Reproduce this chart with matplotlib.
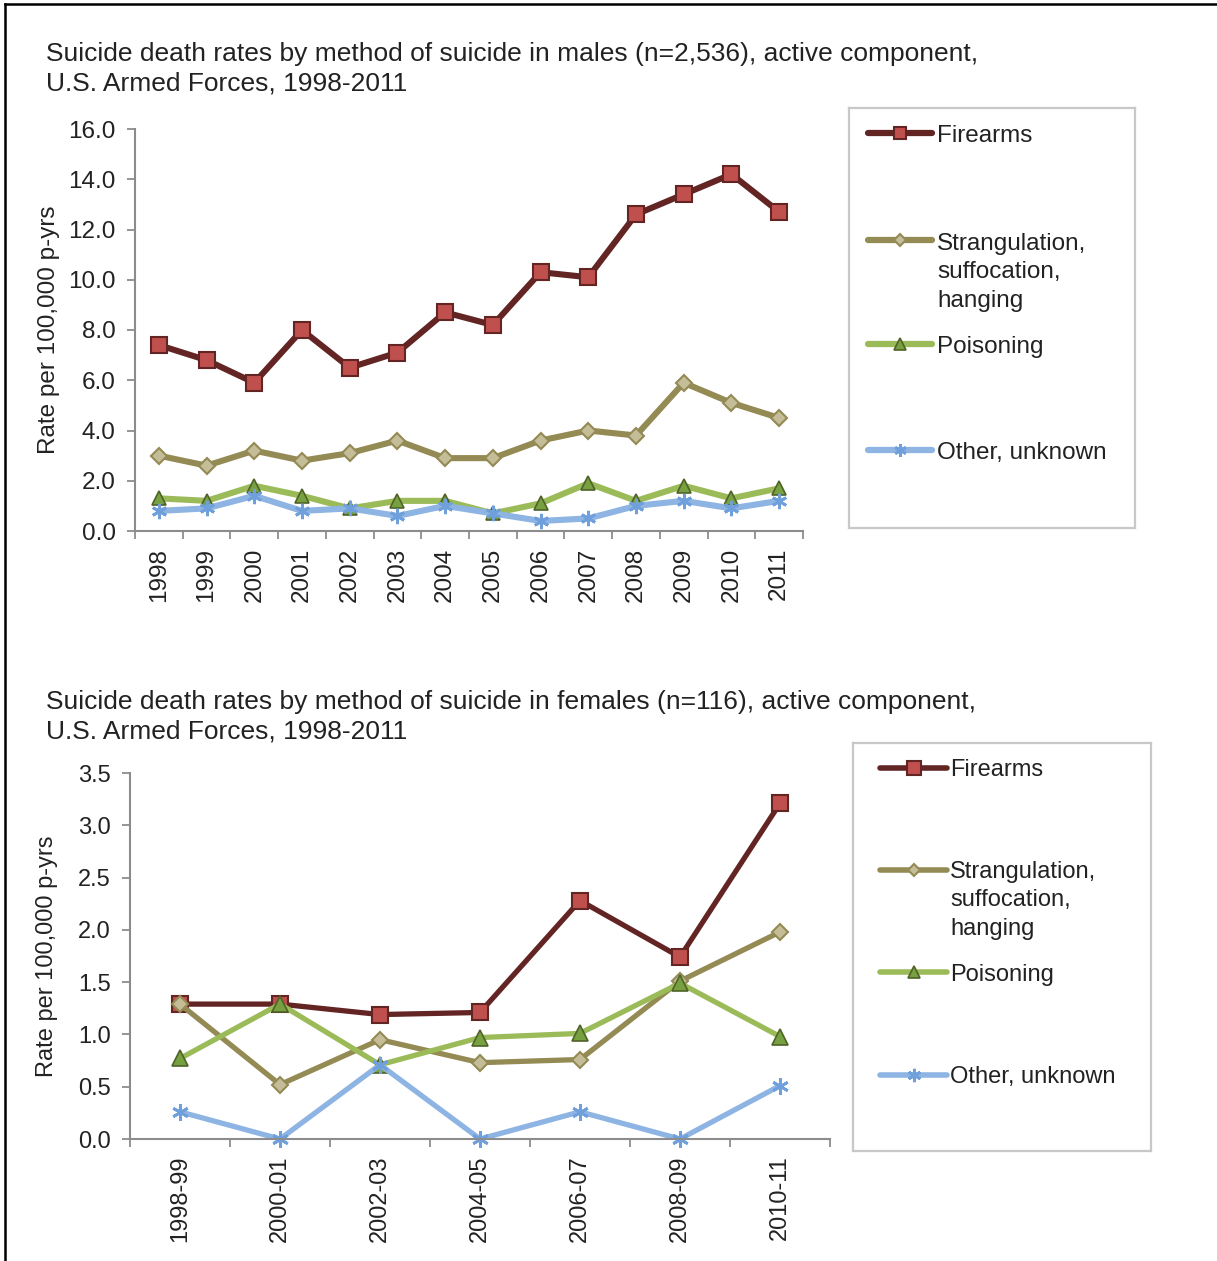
import matplotlib
matplotlib.use('Agg')
import matplotlib.pyplot as plt
from matplotlib.lines import Line2D
from matplotlib.ticker import FormatStrFormatter
import numpy as np

plt.rcParams['font.family'] = ['Liberation Sans', 'DejaVu Sans']

# ── Data ─────────────────────────────────────────────────────────────────────
years = ['1998', '1999', '2000', '2001', '2002', '2003', '2004',
         '2005', '2006', '2007', '2008', '2009', '2010', '2011']
male_firearms = [7.4, 6.8, 5.9, 8.0, 6.5, 7.1, 8.7, 8.2, 10.3, 10.1, 12.6, 13.4, 14.2, 12.7]
male_strang   = [3.0, 2.6, 3.2, 2.8, 3.1, 3.6, 2.9, 2.9, 3.6, 4.0, 3.8, 5.9, 5.1, 4.5]
male_poison   = [1.3, 1.2, 1.8, 1.4, 0.9, 1.2, 1.2, 0.7, 1.1, 1.9, 1.2, 1.8, 1.3, 1.7]
male_other    = [0.8, 0.9, 1.4, 0.8, 0.9, 0.6, 1.0, 0.7, 0.4, 0.5, 1.0, 1.2, 0.9, 1.2]

periods = ['1998-99', '2000-01', '2002-03', '2004-05', '2006-07', '2008-09', '2010-11']
female_firearms = [1.29, 1.29, 1.19, 1.21, 2.28, 1.74, 3.21]
female_strang   = [1.29, 0.52, 0.95, 0.73, 0.76, 1.51, 1.98]
female_poison   = [0.77, 1.29, 0.71, 0.97, 1.01, 1.49, 0.98]
female_other    = [0.26, 0.0, 0.71, 0.0, 0.26, 0.0, 0.51]

labels = ['Firearms', 'Strangulation,\nsuffocation,\nhanging', 'Poisoning', 'Other, unknown']

# ── Styles ───────────────────────────────────────────────────────────────────
TEXT = '#222222'
SPINE = '#8C8C8C'
BOX = '#C8C8C8'
ASTER = (6, 2, 0)
STYLES = [
    dict(color='#632523', marker='s', mfc='#C0504D', mec='#632523', mew=1.5),
    dict(color='#948A54', marker='D', mfc='#C4BD97', mec='#948A54', mew=1.5),
    dict(color='#9BBB59', marker='^', mfc='#77A040', mec='#4F6228', mew=1.2),
    dict(color='#8DB4E2', marker=ASTER, mfc='#6FA0DC', mec='#6FA0DC', mew=2.0),
]
MSIZES_TOP = [11, 8, 10, 11]
MSIZES_BOT = [12, 8, 11, 12]

fig = plt.figure(figsize=(12.17, 12.61), dpi=100)

# outer frame (left + top edges only, as in the source scan)
fig.add_artist(Line2D([5 / 1217, 5 / 1217], [0, 1 - 4 / 1261], color='black', lw=1.8,
                      transform=fig.transFigure))
fig.add_artist(Line2D([5 / 1217, 1], [1 - 4 / 1261, 1 - 4 / 1261], color='black', lw=1.8,
                      transform=fig.transFigure))


def style_axes(ax, cats, ymax, ystep, fs, ylab_x):
    n = len(cats)
    ax.set_xlim(-0.5, n - 0.5)
    ax.set_ylim(0, ymax)
    ax.set_xticks(range(n))
    ax.set_xticklabels(cats, rotation=90, fontsize=fs, color=TEXT)
    ax.set_xticks(np.arange(-0.5, n), minor=True)
    ax.tick_params(axis='x', which='major', length=0, pad=12)
    ax.tick_params(axis='x', which='minor', length=6, width=1.3, color=SPINE)
    ax.set_yticks(np.arange(0, ymax + ystep / 2, ystep))
    ax.yaxis.set_major_formatter(FormatStrFormatter('%.1f'))
    ax.tick_params(axis='y', length=6, width=1.3, color=SPINE, pad=8,
                   labelsize=fs, labelcolor=TEXT)
    for side in ('top', 'right'):
        ax.spines[side].set_visible(False)
    for side in ('left', 'bottom'):
        ax.spines[side].set_color(SPINE)
        ax.spines[side].set_linewidth(1.5)
    ax.set_ylabel('Rate per 100,000 p-yrs', fontsize=fs, color=TEXT)
    ax.yaxis.set_label_coords(ylab_x, 0.5)


def draw_key(rect, wpx, hpx, line_x, text_x, ys, step, lw, msizes, fs):
    lax = fig.add_axes(rect)
    lax.set_xlim(0, wpx)
    lax.set_ylim(hpx, 0)
    lax.set_xticks([])
    lax.set_yticks([])
    for sp in lax.spines.values():
        sp.set_color(BOX)
        sp.set_linewidth(1.6)
    for st, ms, lab, y in zip(STYLES, msizes, labels, ys):
        lax.plot(line_x, [y, y], color=st['color'], lw=lw, solid_capstyle='round')
        lax.plot([(line_x[0] + line_x[1]) / 2], [y], linestyle='none', marker=st['marker'],
                 ms=ms * 0.8, mfc=st['mfc'], mec=st['mec'], mew=st['mew'])
        # baseline of a multi-line text is that of its last line
        nl = lab.count('\n')
        lax.text(text_x, y + 8.5 + nl * step, lab, fontsize=fs, color=TEXT,
                 va='baseline', ha='left', linespacing=1.36)


# ── Top panel: males ─────────────────────────────────────────────────────────
ax1 = fig.add_axes([135 / 1217, 1 - 531 / 1261, 668 / 1217, 402 / 1261])
x1 = np.arange(len(years))
for series, st, ms in zip([male_firearms, male_strang, male_poison, male_other],
                          STYLES, MSIZES_TOP):
    ax1.plot(x1, series, color=st['color'], lw=4.4, marker=st['marker'], ms=ms,
             mfc=st['mfc'], mec=st['mec'], mew=st['mew'], clip_on=False)
style_axes(ax1, years, 16, 2, 17.5, -0.112)

fig.text(46 / 1217, 1 - 90 / 1261,
         'Suicide death rates by method of suicide in males (n=2,536), active component,\n'
         'U.S. Armed Forces, 1998-2011',
         fontsize=19, color=TEXT, ha='left', va='baseline', linespacing=1.28)

draw_key([849 / 1217, 1 - 528 / 1261, 286 / 1217, 420 / 1261], 286, 420,
         [19, 83], 88, [25, 132, 236, 342], 29, 4.5, MSIZES_TOP, 17.5)

# ── Bottom panel: females ────────────────────────────────────────────────────
ax2 = fig.add_axes([130 / 1217, 1 - 1139 / 1261, 700 / 1217, 366 / 1261])
x2 = np.arange(len(periods))
for series, st, ms in zip([female_firearms, female_strang, female_poison, female_other],
                          STYLES, MSIZES_BOT):
    ax2.plot(x2, series, color=st['color'], lw=3.8, marker=st['marker'], ms=ms,
             mfc=st['mfc'], mec=st['mec'], mew=st['mew'], clip_on=False)
style_axes(ax2, periods, 3.5, 0.5, 17, -0.103)

fig.text(46 / 1217, 1 - 738 / 1261,
         'Suicide death rates by method of suicide in females (n=116), active component,\n'
         'U.S. Armed Forces, 1998-2011',
         fontsize=19, color=TEXT, ha='left', va='baseline', linespacing=1.28)

draw_key([853 / 1217, 1 - 1151 / 1261, 298 / 1217, 408 / 1261], 298, 408,
         [27, 94], 97, [25, 127, 229, 332], 28, 4.0, MSIZES_BOT, 17)

fig.savefig('out.png', dpi=100, facecolor='white')
